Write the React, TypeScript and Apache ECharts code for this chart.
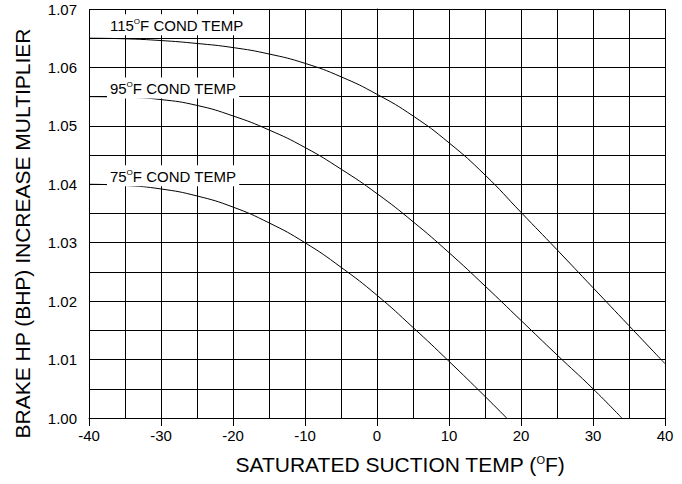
import React, { useEffect, useRef } from "react";
import * as echarts from "echarts";

// Saturated suction temperature (°F) and BHP increase multiplier, per condensing temperature
const temps115 = [-40, -35, -30, -25, -20, -15, -10, -5, 0, 5, 10, 15, 20, 25, 30, 35, 40];
const bhp115 = [1.065, 1.0649, 1.0646, 1.0641, 1.0634, 1.0623, 1.0607, 1.0584, 1.0554, 1.0517, 1.0471, 1.0416, 1.0352, 1.0288, 1.0223, 1.0158, 1.0093];

const temps95 = [-40, -35, -30, -25, -20, -15, -10, -5, 0, 5, 10, 15, 20, 25, 30, 34];
const bhp95 = [1.055, 1.0549, 1.0545, 1.0535, 1.0517, 1.0493, 1.0463, 1.0426, 1.0384, 1.0336, 1.0283, 1.0226, 1.0167, 1.0108, 1.005, 1.0];

const temps75 = [-40, -35, -30, -25, -20, -15, -10, -5, 0, 5, 10, 15, 18];
const bhp75 = [1.04, 1.0398, 1.0392, 1.038, 1.0361, 1.0334, 1.03, 1.0258, 1.021, 1.0155, 1.0097, 1.0037, 1.0];

const condTemps = ["115", "95", "75"];
const labelTemp = -37.5;

const FONT = "'Liberation Sans', Arial, Helvetica, sans-serif";

function pairs(xs: number[], ys: number[]) {
  return xs.map((x, i) => [x, ys[i]]);
}

export default function App() {
  const ref = useRef<HTMLDivElement>(null);
  useEffect(() => {
    if (!ref.current) return;
    const chart = echarts.init(ref.current, null, { renderer: "svg" });
    const seriesData = [pairs(temps115, bhp115), pairs(temps95, bhp95), pairs(temps75, bhp75)];
    const labelOffsets = [[0, -3], [0, 2], [0, 2]];
    const richLabel = {
      a: { fontSize: 15, lineHeight: 18, fontFamily: FONT, color: "#000" },
      s: { fontSize: 8, verticalAlign: "top", padding: [1, 0, 0, 0], fontFamily: FONT, color: "#000" },
    };
    chart.setOption({
      animation: false,
      backgroundColor: "#fff",
      grid: { left: 89, right: 17, top: 9, bottom: 66, containLabel: false },
      xAxis: {
        type: "value",
        min: -40,
        max: 40,
        interval: 10,
        name: "SATURATED SUCTION TEMP ({s|O}F)",
        nameLocation: "middle",
        nameGap: 36,
        nameTextStyle: {
          fontSize: 21,
          fontFamily: FONT,
          color: "#000",
          padding: [0, 0, 0, 46],
          rich: {
            s: { fontSize: 11, verticalAlign: "top", fontFamily: FONT, color: "#000" },
          },
        },
        axisLine: { show: true, lineStyle: { color: "#000", width: 1 } },
        axisTick: { show: true, length: 8, lineStyle: { color: "#000" } },
        axisLabel: { fontSize: 15, fontFamily: FONT, color: "#000", margin: 10 },
        splitLine: { show: true, lineStyle: { color: "#000", width: 1 } },
        minorTick: { show: false, splitNumber: 2 },
        minorSplitLine: { show: true, lineStyle: { color: "#000", width: 1 } },
      },
      yAxis: {
        type: "value",
        min: 1.0,
        max: 1.07,
        interval: 0.01,
        name: "BRAKE HP (BHP) INCREASE MULTIPLIER",
        nameLocation: "middle",
        nameGap: 56,
        nameTextStyle: {
          fontSize: 21,
          fontFamily: FONT,
          color: "#000",
          padding: [0, 40, 0, 0],
        },
        axisLine: { show: true, lineStyle: { color: "#000", width: 1 } },
        axisTick: { show: true, length: 8, lineStyle: { color: "#000" } },
        axisLabel: {
          fontSize: 15,
          fontFamily: FONT,
          color: "#000",
          margin: 12,
          formatter: (v: number) => v.toFixed(2),
        },
        splitLine: { show: true, lineStyle: { color: "#000", width: 1 } },
        minorTick: { show: false, splitNumber: 2 },
        minorSplitLine: { show: true, lineStyle: { color: "#000", width: 1 } },
      },
      series: seriesData.map((data, i) => ({
        type: "line",
        data,
        smooth: 0.5,
        showSymbol: false,
        symbol: "none",
        lineStyle: { color: "#000", width: 1 },
        z: 3,
        markPoint: {
          symbol: "circle",
          symbolSize: 0.1,
          itemStyle: { color: "rgba(0,0,0,0)" },
          z: 4,
          data: [
            {
              coord: [labelTemp, data[0][1]],
              label: {
                show: true,
                position: [0, 0],
                align: "left",
                verticalAlign: "bottom",
                offset: labelOffsets[i],
                backgroundColor: "#fff",
                padding: [2, 3, 1, 3],
                formatter: `{a|${condTemps[i]}}{s|O}{a|F COND TEMP}`,
                rich: richLabel,
              },
            },
          ],
        },
      })),
    });
    return () => chart.dispose();
  }, []);
  return (
    <div
      ref={ref}
      style={{ position: "fixed", left: 0, top: 0, width: 682, height: 484, background: "#fff" }}
    />
  );
}
